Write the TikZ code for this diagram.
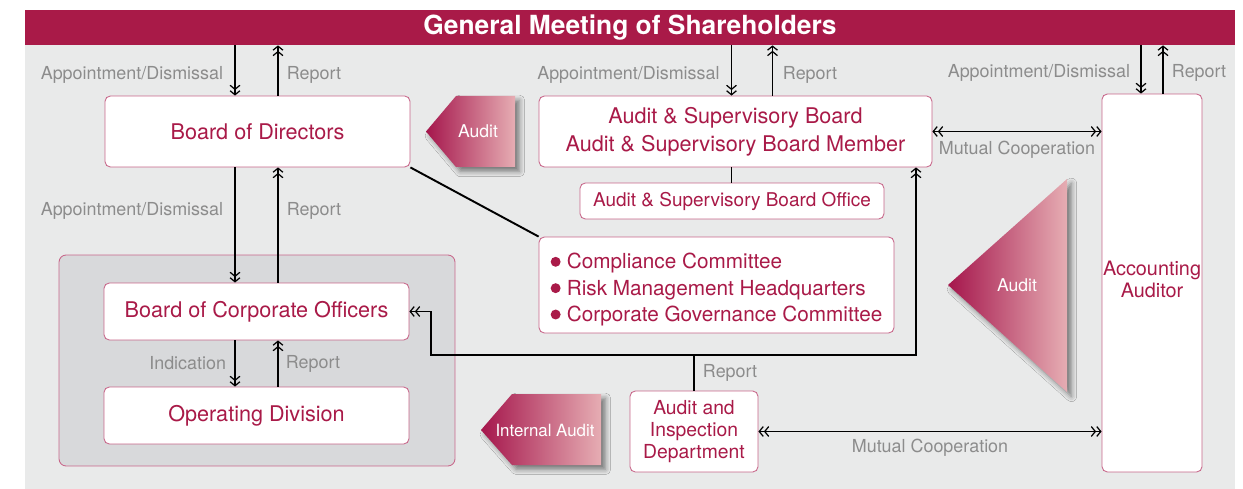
\documentclass[tikz,border=0pt]{standalone}
\usepackage{fontspec}
\setmainfont{TeX Gyre Heros}
\usetikzlibrary{arrows.meta}
\usetikzlibrary{positioning}
\usetikzlibrary{shadows.blur}
\definecolor{crim}{HTML}{A91A48}
\definecolor{boxline}{HTML}{C8678A}
\definecolor{lblgray}{HTML}{8C8C8C}
\definecolor{bggray}{HTML}{E9EAEA}
\definecolor{grpgray}{HTML}{D8D9DB}
\definecolor{tagdark}{HTML}{A5164C}
\definecolor{taglight}{HTML}{E6ADB3}
\tikzset{org/.style = {draw=boxline, line width=0.5pt, fill=white, rounded corners=3pt,
                       text=crim, align=center, inner sep=0,
                       font=\fontsize{12.3}{16}\selectfont}}
\tikzset{lbl/.style = {text=lblgray, inner sep=0, font=\fontsize{10.2}{12}\selectfont}}
\tikzset{conn/.style = {line width=1.1pt}}
\tikzset{tag/.style = {left color=tagdark, right color=taglight,
                       blur shadow={shadow xshift=2.5pt, shadow yshift=-2.5pt,
                                    shadow blur radius=3pt, shadow opacity=50}}}
\tikzset{tagtext/.style = {text=white, inner sep=0, font=\fontsize{10}{12}\selectfont}}
\tikzset{>={Straight Barb[length=2.3pt, width=5.6pt, line width=0.7pt]}}
\newcommand{\blt}{\tikz[baseline=0pt]\fill [crim] (0,0.34em) circle (0.24em);\hspace{0.3em}}

\begin{document}
\begin{tikzpicture}[x=0.02cm, y=-0.02cm]
  \useasboundingbox (0,0) rectangle (1243,489);
  \fill [bggray] (25,10) rectangle (1235,489);

  \node [fill=crim, text=white, minimum width=24.2cm, minimum height=0.7cm, inner sep=0,
         font=\fontsize{15}{18}\selectfont\bfseries] (gms) at (630,27.5) {General Meeting of Shareholders};

  % executive side
  \node [draw=boxline, line width=0.5pt, fill=grpgray, rounded corners=4pt,
         minimum width=7.92cm, minimum height=4.22cm] (grp) at (257,360.5) {};
  \node [org, minimum width=6.1cm, minimum height=1.42cm] (bod) at (257.5,131.5) {Board of Directors};
  \node [org, minimum width=6.1cm, minimum height=1.14cm] (boco) at (256.5,311.5) {Board of Corporate Officers};
  \node [org, minimum width=6.1cm, minimum height=1.14cm] (opd) at (256.5,415.5) {Operating Division};

  % audit side
  \node [org, minimum width=7.86cm, minimum height=1.42cm] (asb) at (735.5,131.5)
        {Audit \& Supervisory Board\\Audit \& Supervisory Board Member};
  \node [org, minimum width=6.08cm, minimum height=0.72cm, font=\fontsize{10.8}{13}\selectfont] (office) at (732,201)
        {Audit \& Supervisory Board Office};
  \node [org, align=left, minimum width=7.1cm, minimum height=1.92cm, font=\fontsize{11.8}{15}\selectfont] (comm) at (716.5,285)
        {\rule{0pt}{14.2pt}\blt Compliance Committee\\\blt Risk Management Headquarters\\\blt Corporate Governance Committee};
  \node [org, minimum width=2.56cm, minimum height=1.62cm, font=\fontsize{11}{12.3}\selectfont] (aid) at (694,431.5)
        {Audit and\\Inspection\\Department};
  \node [org, minimum width=2cm, minimum height=7.56cm, font=\fontsize{11.3}{12.5}\selectfont] (aa) at (1152,283)
        {Accounting\\Auditor\\[-8pt]};

  % audit tags
  \path [tag] (426,131.5) -- (456,96) -- (515,96) -- (515,167) -- (456,167) -- cycle;
  \node [tagtext] (auda) at (478,131.5) {Audit};
  \path [tag] (481,430) -- (512,394) -- (601,394) -- (601,465) -- (512,465) -- cycle;
  \node [tagtext, font=\fontsize{9.6}{12}\selectfont] (audi) at (545,430) {Internal Audit};
  \path [tag] (948,285) -- (1067,179) -- (1067,392) -- cycle;
  \node [tagtext] (audb) at (1017,285) {Audit};

  \coordinate (dn1) at (235,0);
  \coordinate (up1) at (278,0);
  \coordinate (dn2) at (731.5,0);
  \coordinate (up2) at (772.5,0);
  \coordinate (dn3) at (1141,0);
  \coordinate (up3) at (1163,0);
  \coordinate (up4) at (916,0);
  \coordinate (loop) at (431,355);

  \draw [conn, ->>] (gms.south -| dn1) -- node [lbl, left=0.22cm, pos=0.58] {Appointment/Dismissal} (bod.north -| dn1);
  \draw [conn, ->>] (bod.north -| up1) -- node [lbl, right=0.16cm, pos=0.42] {Report} (gms.south -| up1);
  \draw [conn, ->>] (bod.south -| dn1) -- node [lbl, left=0.22cm, pos=0.38] {Appointment/Dismissal} (boco.north -| dn1);
  \draw [conn, ->>] (boco.north -| up1) -- node [lbl, right=0.16cm, pos=0.62] {Report} (bod.south -| up1);
  \draw [conn, ->>] (boco.south -| dn1) -- node [lbl, left=0.16cm] {Indication} (opd.north -| dn1);
  \draw [conn, ->>] (opd.north -| up1) -- node [lbl, right=0.14cm] {Report} (boco.south -| up1);

  \draw [conn, ->>] (gms.south -| dn2) -- node [lbl, left=0.22cm, pos=0.58] {Appointment/Dismissal} (asb.north -| dn2);
  \draw [conn, ->>] (asb.north -| up2) -- node [lbl, right=0.19cm, pos=0.42] {Report} (gms.south -| up2);
  \draw [conn] (asb.south -| dn2) -- (office.north -| dn2);
  \draw [conn] (bod.south east) -- (comm.north west);

  \draw [conn, ->>] (gms.south -| dn3) -- node [lbl, left=0.2cm, pos=0.58] {Appointment/Dismissal} (aa.north -| dn3);
  \draw [conn, ->>] (aa.north -| up3) -- node [lbl, right=0.16cm, pos=0.42] {Report} (gms.south -| up3);

  \draw [conn, <<->>] (asb.east) -- node [lbl, below=0.18cm] {Mutual Cooperation} (aa.west |- asb.east);
  \draw [conn, <<->>] (aid.east) -- node [lbl, below=0.14cm] {Mutual Cooperation} (aa.west |- aid.east);

  \draw [conn, ->>] (aid.north) -- node [lbl, right=0.16cm] {Report} (aid.north |- loop) -- (loop) |- (boco.east);
  \draw [conn, ->>] (aid.north |- loop) -| (asb.south -| up4);
\end{tikzpicture}
\end{document}
